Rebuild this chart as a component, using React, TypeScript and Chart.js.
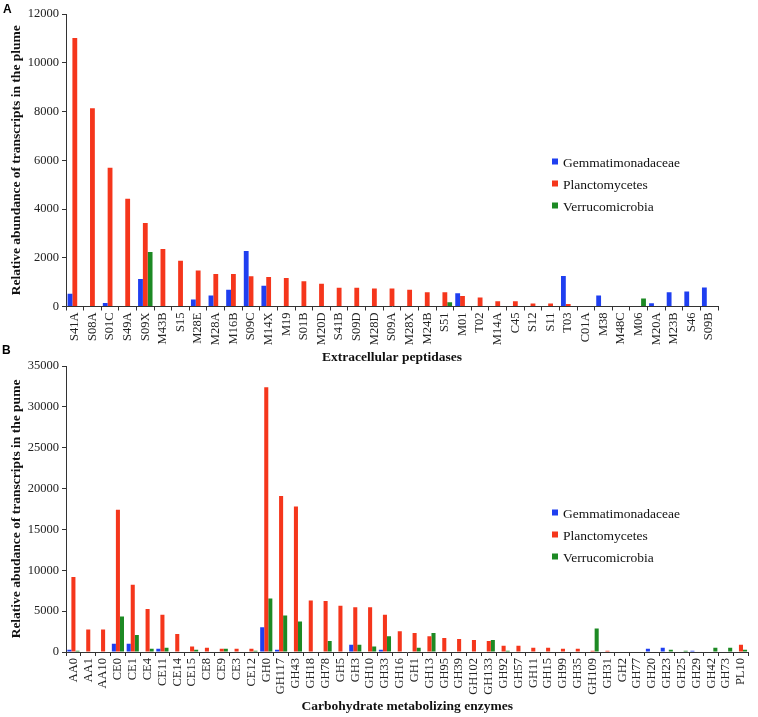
import React, { useEffect, useRef } from 'react';
import { Chart, registerables } from 'chart.js';
Chart.register(...registerables);

const seriesNames = ['Gemmatimonadaceae', 'Planctomycetes', 'Verrucomicrobia'];
const seriesColors = ['#1f3ff0', '#f5361c', '#1d8a24'];

// Panel A: extracellular peptidases
const peptidaseLabels = ['S41A', 'S08A', 'S01C', 'S49A', 'S09X', 'M43B', 'S15', 'M28E', 'M28A', 'M16B', 'S09C', 'M14X', 'M19', 'S01B', 'M20D', 'S41B', 'S09D', 'M28D', 'S09A', 'M28X', 'M24B', 'S51', 'M01', 'T02', 'M14A', 'C45', 'S12', 'S11', 'T03', 'C01A', 'M38', 'M48C', 'M06', 'M20A', 'M23B', 'S46', 'S09B'];
const peptidaseGemma = [520, 0, 140, 0, 1130, 0, 0, 290, 450, 690, 2280, 850, 0, 0, 0, 0, 0, 0, 0, 0, 0, 0, 540, 0, 0, 0, 0, 0, 1250, 0, 450, 0, 0, 130, 580, 620, 780];
const peptidasePlancto = [11020, 8130, 5690, 4420, 3430, 2360, 1880, 1480, 1330, 1330, 1240, 1210, 1170, 1040, 930, 770, 770, 740, 740, 690, 580, 580, 430, 370, 220, 220, 120, 120, 100, 0, 0, 0, 0, 0, 0, 0, 0];
const peptidaseVerruco = [0, 0, 0, 0, 2240, 0, 0, 0, 0, 0, 0, 0, 0, 0, 0, 0, 0, 0, 0, 0, 0, 170, 0, 0, 0, 0, 0, 0, 0, 0, 0, 0, 330, 0, 0, 0, 0];
const peptidaseTicks = [0, 2000, 4000, 6000, 8000, 10000, 12000];

// Panel B: carbohydrate metabolizing enzymes
const carbLabels = ['AA0', 'AA1', 'AA10', 'CE0', 'CE1', 'CE4', 'CE11', 'CE14', 'CE15', 'CE8', 'CE9', 'CE3', 'CE12', 'GH0', 'GH117', 'GH43', 'GH18', 'GH78', 'GH5', 'GH3', 'GH10', 'GH33', 'GH16', 'GH1', 'GH13', 'GH95', 'GH39', 'GH102', 'GH133', 'GH92', 'GH57', 'GH11', 'GH15', 'GH99', 'GH35', 'GH109', 'GH31', 'GH2', 'GH77', 'GH20', 'GH23', 'GH25', 'GH29', 'GH42', 'GH73', 'PL10'];
const carbGemma = [290, 0, 0, 1020, 1020, 0, 410, 0, 0, 0, 0, 0, 0, 3030, 290, 0, 0, 0, 0, 900, 0, 290, 0, 0, 0, 0, 0, 0, 0, 0, 0, 0, 0, 0, 0, 0, 0, 0, 0, 410, 530, 0, 160, 0, 0, 0];
const carbPlancto = [9190, 2750, 2750, 17400, 8240, 5250, 4550, 2210, 660, 530, 410, 410, 410, 32400, 19100, 17800, 6310, 6230, 5660, 5490, 5490, 4550, 2540, 2340, 1930, 1720, 1600, 1480, 1350, 780, 780, 530, 530, 410, 410, 160, 160, 0, 0, 0, 0, 0, 0, 0, 0, 900];
const carbVerruco = [160, 0, 0, 4340, 2090, 410, 530, 0, 290, 0, 410, 0, 160, 6560, 4470, 3730, 0, 1350, 0, 900, 660, 1930, 0, 530, 2340, 0, 0, 0, 1480, 160, 0, 0, 0, 0, 0, 2870, 0, 0, 0, 0, 290, 160, 0, 530, 530, 290];
const carbTicks = [0, 5000, 10000, 15000, 20000, 25000, 30000, 35000];

const SERIF = '"Liberation Serif", "Times New Roman", serif';

const insideLegend = {
  id: 'insideLegend',
  afterDraw(chart: any, _args: any, opts: any) {
    const ctx = chart.ctx;
    ctx.save();
    ctx.font = `${opts.fontSize}px ${SERIF}`;
    ctx.textBaseline = 'middle';
    ctx.textAlign = 'left';
    chart.data.datasets.forEach((ds: any, i: number) => {
      const y = opts.y + i * opts.gap;
      ctx.fillStyle = ds.backgroundColor;
      ctx.fillRect(opts.x, y - 3.5, 6, 6);
      ctx.fillStyle = '#111';
      ctx.fillText(ds.label, opts.x + 11, y + 1);
    });
    ctx.restore();
  },
};

type PanelProps = {
  labels: string[];
  series: number[][];
  ticks: number[];
  xTitle: string;
  yTitle: string;
  width: number;
  height: number;
  padTop: number;
  padRight: number;
  xHeight: number;
  legendX: number;
  legendY: number;
};

function Panel(p: PanelProps) {
  const ref = useRef<HTMLCanvasElement | null>(null);
  useEffect(() => {
    if (!ref.current) return;
    const tickFont = { family: SERIF, size: 12.5 };
    const titleFont = { family: SERIF, size: 13.5, weight: 'bold' as const };
    const chart = new Chart(ref.current, {
      type: 'bar',
      data: {
        labels: p.labels,
        datasets: p.series.map((vals, i) => ({
          label: seriesNames[i],
          data: vals,
          backgroundColor: seriesColors[i],
          borderWidth: 0,
          categoryPercentage: 0.82,
          barPercentage: 1.0,
        })),
      },
      options: {
        animation: false,
        responsive: false,
        devicePixelRatio: 1,
        layout: { padding: { top: p.padTop, right: p.padRight, left: 0, bottom: 0 } },
        plugins: {
          legend: { display: false },
          tooltip: { enabled: false },
          insideLegend: { x: p.legendX, y: p.legendY, gap: 22, fontSize: 13.5 },
        } as any,
        scales: {
          x: {
            type: 'category',
            offset: true,
            grid: { offset: true, drawOnChartArea: false, drawTicks: true, tickLength: 4, color: '#333', lineWidth: 1 },
            border: { color: '#333', width: 1 },
            ticks: { autoSkip: false, minRotation: 90, maxRotation: 90, padding: 2, color: '#222', font: tickFont },
            title: { display: true, text: p.xTitle, color: '#111', font: titleFont, padding: { top: 2, bottom: 2 } },
            afterFit: (s: any) => { s.height = p.xHeight; },
          },
          y: {
            min: p.ticks[0],
            max: p.ticks[p.ticks.length - 1],
            afterBuildTicks: (s: any) => { s.ticks = p.ticks.map((v) => ({ value: v })); },
            grid: { drawOnChartArea: false, drawTicks: true, tickLength: 4, color: '#333' },
            border: { color: '#333', width: 1 },
            ticks: { padding: 3, color: '#222', font: tickFont, callback: (v: any) => String(v) },
            title: { display: true, text: p.yTitle, color: '#111', font: titleFont, padding: { top: 8, bottom: 0 } },
            afterFit: (s: any) => { s.width = 66; },
          },
        },
      },
      plugins: [insideLegend],
    });
    return () => chart.destroy();
  }, []);
  return <canvas ref={ref} width={p.width} height={p.height} style={{ display: 'block' }} />;
}

export default function App() {
  const panelLetter: React.CSSProperties = {
    position: 'absolute', fontFamily: '"Liberation Sans", Arial, sans-serif', fontWeight: 'bold', fontSize: 12, lineHeight: '12px', color: '#000',
  };
  return (
    <div style={{ position: 'absolute', left: 0, top: 0, width: 758, height: 717, background: '#fff', overflow: 'hidden' }}>
      <div style={{ position: 'absolute', left: 0, top: 0 }}>
        <Panel
          labels={peptidaseLabels}
          series={[peptidaseGemma, peptidasePlancto, peptidaseVerruco]}
          ticks={peptidaseTicks}
          xTitle="Extracellular peptidases"
          yTitle="Relative abundance of transcripts in the plume"
          width={758}
          height={368}
          padTop={14}
          padRight={40}
          xHeight={61.5}
          legendX={552}
          legendY={162}
        />
      </div>
      <div style={{ position: 'absolute', left: 0, top: 340 }}>
        <Panel
          labels={carbLabels}
          series={[carbGemma, carbPlancto, carbVerruco]}
          ticks={carbTicks}
          xTitle="Carbohydrate metabolizing enzymes"
          yTitle="Relative abudance of transcripts in the pume"
          width={758}
          height={377}
          padTop={26}
          padRight={3}
          xHeight={65}
          legendX={552}
          legendY={173}
        />
      </div>
      <div style={{ ...panelLetter, left: 3, top: 3 }}>A</div>
      <div style={{ ...panelLetter, left: 2, top: 344 }}>B</div>
    </div>
  );
}
